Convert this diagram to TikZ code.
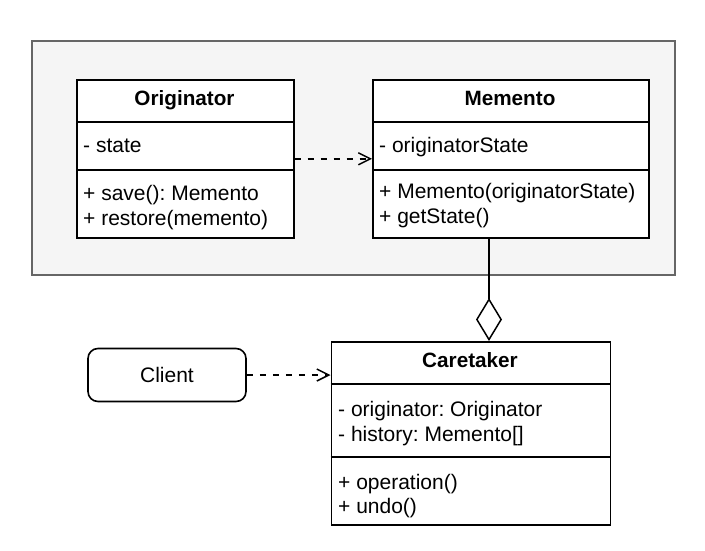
\documentclass[tikz,border=0pt]{standalone}
\usepackage{fontspec}
\setmainfont{Liberation Sans}
\usetikzlibrary{arrows.meta,shapes.geometric}
\definecolor{grpfill}{HTML}{F5F5F5}
\definecolor{grpline}{HTML}{666666}
\frenchspacing
\begin{document}
\begin{tikzpicture}[x=1pt,y=-1pt,
  classbox/.style={draw=black,line width=1.6pt,fill=white,rectangle,inner sep=0pt,anchor=north west},
  divider/.style={draw=black,line width=1.4pt},
  member/.style={anchor=base west,inner sep=0pt,font=\fontsize{21}{25}\selectfont},
  title/.style={anchor=base,inner sep=0pt,font=\fontsize{20.7}{25}\selectfont\bfseries},
  dep/.style={draw=black,line width=1.5pt,dash pattern=on 6.5pt off 6.5pt,-{Straight Barb[length=12pt,width=12pt,line width=1.5pt]}},
  agg/.style={draw=black,line width=1.5pt,-{Diamond[open,length=43pt,width=26pt,line width=1.5pt]}}
]
\useasboundingbox (0,0) rectangle (705,550);
% group
\path[fill=grpfill,draw=grpline,line width=1.6pt] (32,41) rectangle (675,275);

% Originator
\node[classbox,minimum width=217pt,minimum height=158pt] (orig) at (76,79) {};
\draw[divider] (76,122) -- (293,122);
\draw[divider] (76,170) -- (293,170);
\node[title] (origT) at (184.5,105) {Originator};
\node[member] (origA) at (83,152.5) {- state};
\node[member] (origM1) at (83,200) {+ save(): Memento};
\node[member] (origM2) at (83,225) {+ restore(memento)};

% Memento
\node[classbox,minimum width=276pt,minimum height=158pt] (mem) at (372,79) {};
\draw[divider] (372,122) -- (648,122);
\draw[divider] (372,170) -- (648,170);
\node[title] (memT) at (510,105) {Memento};
\node[member] (memA) at (379,152.5) {- originatorState};
\node[member] (memM1) at (379,198.5) {+ Memento(originatorState)};
\node[member] (memM2) at (379,223.5) {+ getState()};

% Caretaker
\node[classbox,minimum width=279pt,minimum height=183pt] (care) at (330.5,341) {};
\draw[divider] (330.5,384) -- (609.5,384);
\draw[divider] (330.5,457) -- (609.5,457);
\node[title] (careT) at (470,367) {Caretaker};
\node[member] (careA1) at (338,416) {- originator: Originator};
\node[member] (careA2) at (338,441) {- history: Memento[]};
\node[member] (careM1) at (338,489) {+ operation()};
\node[member] (careM2) at (338,513.5) {+ undo()};

% Client
\node[draw=black,line width=1.6pt,rounded corners=10pt,fill=white,minimum width=158pt,minimum height=53pt,inner sep=0pt,font=\fontsize{21}{25}\selectfont] (client) at (167,375) {Client};

% connectors
\coordinate (aggx) at (489,0);
\draw[dep] (orig.east) -- (mem.west);
\draw[dep] (client.east) -- (client.east -| care.west);
\draw[agg] (mem.south -| aggx) -- (care.north -| aggx);
\end{tikzpicture}
\end{document}
